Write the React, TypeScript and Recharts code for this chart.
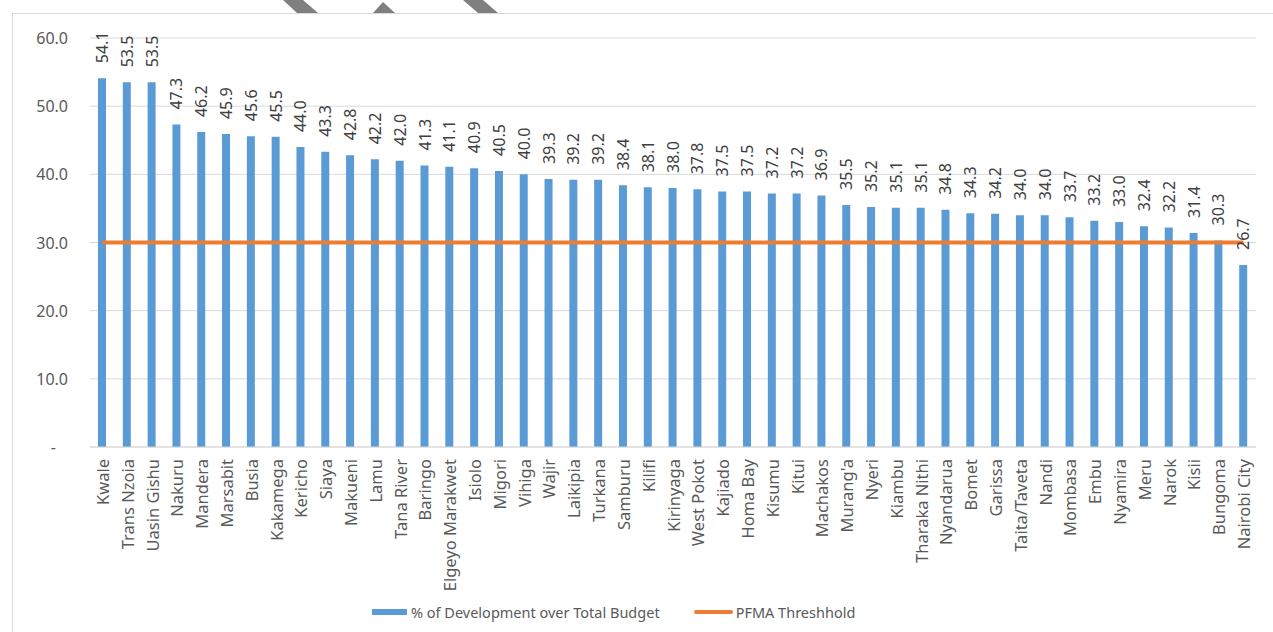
import React from 'react'
import {
  ComposedChart,
  Bar,
  Line,
  XAxis,
  YAxis,
  CartesianGrid,
  LabelList,
} from 'recharts'

const counties = [
  'Kwale', 'Trans Nzoia', 'Uasin Gishu', 'Nakuru', 'Mandera', 'Marsabit', 'Busia', 'Kakamega',
  'Kericho', 'Siaya', 'Makueni', 'Lamu', 'Tana River', 'Baringo', 'Elgeyo Marakwet', 'Isiolo',
  'Migori', 'Vihiga', 'Wajir', 'Laikipia', 'Turkana', 'Samburu', 'Kilifi', 'Kirinyaga',
  'West Pokot', 'Kajiado', 'Homa Bay', 'Kisumu', 'Kitui', 'Machakos', "Murang'a", 'Nyeri',
  'Kiambu', 'Tharaka Nithi', 'Nyandarua', 'Bomet', 'Garissa', 'Taita/Taveta', 'Nandi',
  'Mombasa', 'Embu', 'Nyamira', 'Meru', 'Narok', 'Kisii', 'Bungoma', 'Nairobi City',
]

const devShare = [
  54.1, 53.5, 53.5, 47.3, 46.2, 45.9, 45.6, 45.5,
  44.0, 43.3, 42.8, 42.2, 42.0, 41.3, 41.1, 40.9,
  40.5, 40.0, 39.3, 39.2, 39.2, 38.4, 38.1, 38.0,
  37.8, 37.5, 37.5, 37.2, 37.2, 36.9, 35.5, 35.2,
  35.1, 35.1, 34.8, 34.3, 34.2, 34.0, 34.0,
  33.7, 33.2, 33.0, 32.4, 32.2, 31.4, 30.3, 26.7,
]

const PFMA_THRESHOLD = 30
const yTicks = [0, 10, 20, 30, 40, 50, 60]

const BLUE = '#5b9bd5'
const ORANGE = '#ed7d31'
const TEXT = '#595959'
const FONT = '"Noto Sans", "Open Sans", sans-serif'

const data = counties.map((name, i) => ({
  name,
  dev: devShare[i],
  pfma: PFMA_THRESHOLD,
}))

function YTick({ x, y, payload }: any) {
  const v = payload.value as number
  return (
    <text
      x={v === 0 ? x - 12 : x}
      y={y}
      textAnchor="end"
      dominantBaseline="central"
      fill={TEXT}
      fontSize={16}
      fontFamily={FONT}
    >
      {v === 0 ? '-' : v.toFixed(1)}
    </text>
  )
}

function XTick({ x, y, payload }: any) {
  return (
    <text
      transform={`translate(${x},${y + 4}) rotate(-90)`}
      textAnchor="end"
      dominantBaseline="central"
      fill={TEXT}
      fontSize={16.5}
      fontFamily={FONT}
    >
      {payload.value}
    </text>
  )
}

function ValueLabel({ x, y, width, value }: any) {
  return (
    <text
      transform={`translate(${x + width / 2},${y - 15}) rotate(-90)`}
      textAnchor="start"
      dominantBaseline="central"
      fill="#404040"
      fontSize={16}
      fontFamily={FONT}
    >
      {Number(value).toFixed(1)}
    </text>
  )
}

export default function App() {
  return (
    <div style={{ position: 'absolute', left: 0, top: 0, width: 1273, height: 632, background: '#fff', overflow: 'hidden' }}>
      {/* stray marks along the top edge */}
      <svg width={1273} height={14} style={{ position: 'absolute', left: 0, top: 0 }}>
        <polygon points="283,0 303,0 318,13 297,13" fill="#7f7f7f" />
        <polygon points="383,2 395,13 373,13" fill="#7f7f7f" />
        <polygon points="463,0 483,0 498,13 478,13" fill="#7f7f7f" />
      </svg>
      <div
        style={{
          position: 'absolute',
          left: 12,
          top: 13,
          width: 1300,
          height: 700,
          border: '1px solid #d9d9d9',
          boxSizing: 'border-box',
        }}
      />
      <div style={{ position: 'absolute', left: 0, top: 0 }}>
        <ComposedChart
          width={1273}
          height={632}
          data={data}
          margin={{ top: 38, right: 17, left: 0, bottom: 0 }}
        >
          <CartesianGrid vertical={false} stroke="#d9d9d9" />
          <XAxis
            dataKey="name"
            interval={0}
            tickLine={false}
            axisLine={{ stroke: '#d9d9d9' }}
            tick={<XTick />}
            height={185}
          />
          <YAxis
            domain={[0, 60]}
            ticks={yTicks}
            width={90}
            tickLine={false}
            axisLine={false}
            tickMargin={16}
            tick={<YTick />}
          />
          <Bar dataKey="dev" fill={BLUE} barSize={8} isAnimationActive={false}>
            <LabelList dataKey="dev" content={<ValueLabel />} />
          </Bar>
          <Line
            dataKey="pfma"
            type="linear"
            stroke={ORANGE}
            strokeWidth={4}
            dot={false}
            activeDot={false}
            isAnimationActive={false}
          />
        </ComposedChart>
      </div>
      <div
        style={{
          position: 'absolute',
          top: 602,
          left: 372,
          display: 'flex',
          alignItems: 'center',
          fontFamily: FONT,
          fontSize: 14.5,
          color: TEXT,
          whiteSpace: 'nowrap',
        }}
      >
        <span style={{ display: 'inline-block', width: 35, height: 6, background: BLUE, marginRight: 4 }} />
        <span>% of Development over Total Budget</span>
        <span style={{ display: 'inline-block', width: 39, height: 4, borderRadius: 2, background: ORANGE, marginLeft: 34, marginRight: 3 }} />
        <span>PFMA Threshhold</span>
      </div>
    </div>
  )
}
